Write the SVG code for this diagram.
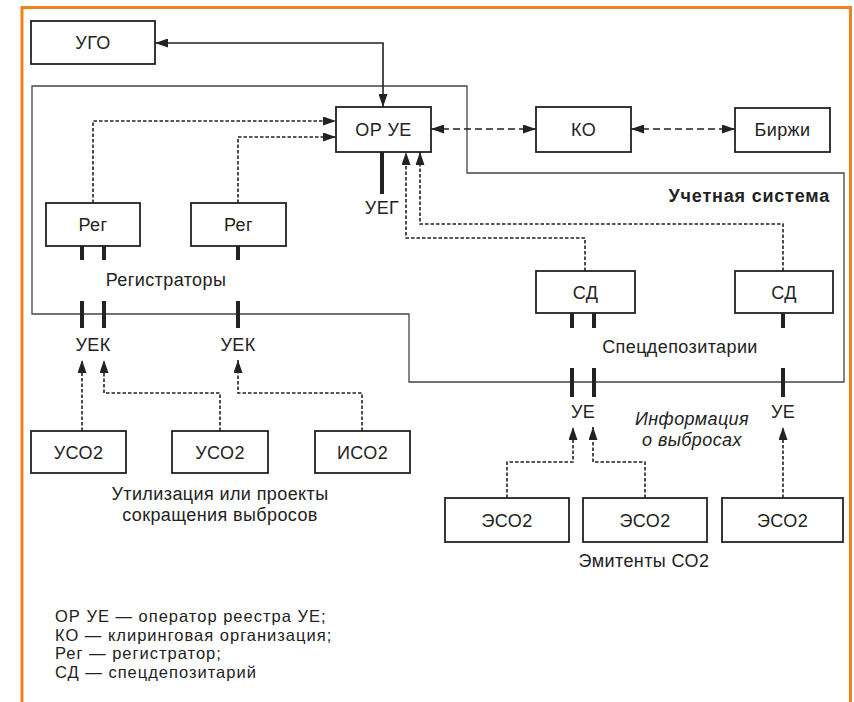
<svg xmlns="http://www.w3.org/2000/svg" width="854" height="702" viewBox="0 0 854 702">
<style>
.box{fill:#fff;stroke:#222;stroke-width:1.8}
.t{font-family:"Liberation Sans",Arial,sans-serif;font-size:18px;letter-spacing:0.4px;fill:#222;text-anchor:middle}
.lg{font-family:"Liberation Sans",Arial,sans-serif;font-size:16.5px;letter-spacing:1px;fill:#222}
.sys{fill:none;stroke:#444;stroke-width:1.3}
.c{fill:none;stroke:#222;stroke-width:1.6}
.dot{stroke-dasharray:3.5 2}
.dash{stroke-dasharray:7 4}
.bar{stroke:#222;stroke-width:4}
</style>
<defs>
<marker id="ah" markerUnits="userSpaceOnUse" markerWidth="13" markerHeight="9" refX="13" refY="4.5" orient="auto-start-reverse" viewBox="0 0 13 9">
<path d="M0,0 L13,4.5 L0,9 z" fill="#222" stroke="none"/>
</marker>
</defs>
<rect width="854" height="702" fill="#fff"/>
<path d="M22,702 V7.5 H850.5 V702" fill="none" stroke="#f0821e" stroke-width="3"/>
<g id="system">
<path class="sys" d="M32,86 H467 V173 H844 V382 H409 V314 H32 Z"/>
<text class="t" x="830" y="202" style="text-anchor:end;font-weight:bold;letter-spacing:0.8px">Учетная система</text>
</g>
<g id="connectors">
<path class="c" d="M155,43 H383 V107" marker-start="url(#ah)" marker-end="url(#ah)"/>
<path class="c dot" d="M93,203 V121 H336" marker-end="url(#ah)"/>
<path class="c dot" d="M238,203 V137 H336" marker-end="url(#ah)"/>
<path class="c dash" d="M431,129 H536" marker-start="url(#ah)" marker-end="url(#ah)"/>
<path class="c dash" d="M631,129 H735" marker-start="url(#ah)" marker-end="url(#ah)"/>
<path class="c dot" d="M585,271 V238 H406 V152" marker-end="url(#ah)"/>
<path class="c dot" d="M783,271 V224 H420 V152" marker-end="url(#ah)"/>
<path class="c dot" d="M82,431 V360" marker-end="url(#ah)"/>
<path class="c dot" d="M220,431 V393 H104 V360" marker-end="url(#ah)"/>
<path class="c dot" d="M362,431 V393 H238 V360" marker-end="url(#ah)"/>
<path class="c dot" d="M507,498 V462 H573 V427" marker-end="url(#ah)"/>
<path class="c dot" d="M645,498 V462 H593 V427" marker-end="url(#ah)"/>
<path class="c dot" d="M783,498 V427" marker-end="url(#ah)"/>
</g>
<g id="bars">
<line class="bar" x1="382" y1="152" x2="382" y2="194"/>
<line class="bar" x1="82" y1="246" x2="82" y2="260"/>
<line class="bar" x1="104" y1="246" x2="104" y2="260"/>
<line class="bar" x1="82" y1="301" x2="82" y2="328"/>
<line class="bar" x1="104" y1="301" x2="104" y2="328"/>
<line class="bar" x1="238" y1="246" x2="238" y2="260"/>
<line class="bar" x1="238" y1="301" x2="238" y2="328"/>
<line class="bar" x1="572" y1="313" x2="572" y2="328"/>
<line class="bar" x1="594" y1="313" x2="594" y2="328"/>
<line class="bar" x1="572" y1="368" x2="572" y2="397"/>
<line class="bar" x1="594" y1="368" x2="594" y2="397"/>
<line class="bar" x1="783" y1="313" x2="783" y2="328"/>
<line class="bar" x1="783" y1="368" x2="783" y2="397"/>
</g>
<g id="ugo"><rect class="box" x="31" y="21" width="124" height="43"/><text class="t" x="93" y="49">УГО</text></g>
<g id="orue"><rect class="box" x="336" y="107" width="95" height="45"/><text class="t" x="383.5" y="136">ОР УЕ</text></g>
<g id="ko"><rect class="box" x="536" y="107" width="95" height="45"/><text class="t" x="583.5" y="136">КО</text></g>
<g id="birzhi"><rect class="box" x="735" y="108" width="95" height="44"/><text class="t" x="782.5" y="136">Биржи</text></g>
<g id="reg1"><rect class="box" x="46" y="203" width="94" height="43"/><text class="t" x="93" y="231">Рег</text></g>
<g id="reg2"><rect class="box" x="191" y="203" width="95" height="43"/><text class="t" x="238.5" y="231">Рег</text></g>
<g id="sd1"><rect class="box" x="536" y="271" width="99" height="42"/><text class="t" x="585.5" y="298.5">СД</text></g>
<g id="sd2"><rect class="box" x="735" y="271" width="98" height="42"/><text class="t" x="784" y="298.5">СД</text></g>
<g id="uso1"><rect class="box" x="31" y="431" width="95" height="42"/><text class="t" x="78.5" y="458.5">УСО2</text></g>
<g id="uso2"><rect class="box" x="172" y="431" width="96" height="42"/><text class="t" x="220" y="458.5">УСО2</text></g>
<g id="iso"><rect class="box" x="315" y="431" width="95" height="42"/><text class="t" x="362.5" y="458.5">ИСО2</text></g>
<g id="eso1"><rect class="box" x="445" y="498" width="124" height="44"/><text class="t" x="507" y="526.5">ЭСО2</text></g>
<g id="eso2"><rect class="box" x="583" y="498" width="124" height="44"/><text class="t" x="645" y="526.5">ЭСО2</text></g>
<g id="eso3"><rect class="box" x="722" y="498" width="121" height="44"/><text class="t" x="782.5" y="526.5">ЭСО2</text></g>
<g id="labels">
<text class="t" x="382" y="214">УЕГ</text>
<text class="t" x="166" y="286">Регистраторы</text>
<text class="t" x="93" y="351">УЕК</text>
<text class="t" x="238" y="351">УЕК</text>
<text class="t" x="680" y="353">Спецдепозитарии</text>
<text class="t" x="583" y="418">УЕ</text>
<text class="t" x="783" y="418">УЕ</text>
<text class="t" x="692" y="425" font-style="italic">Информация</text>
<text class="t" x="692" y="446" font-style="italic">о выбросах</text>
<text class="t" x="220" y="500">Утилизация или проекты</text>
<text class="t" x="220" y="521">сокращения выбросов</text>
<text class="t" x="644" y="567">Эмитенты СО2</text>
</g>
<g id="legend">
<text class="lg" x="55" y="622">ОР УЕ — оператор реестра УЕ;</text>
<text class="lg" x="55" y="640.5">КО — клиринговая организация;</text>
<text class="lg" x="55" y="659">Рег — регистратор;</text>
<text class="lg" x="55" y="677.5">СД — спецдепозитарий</text>
</g>
</svg>
